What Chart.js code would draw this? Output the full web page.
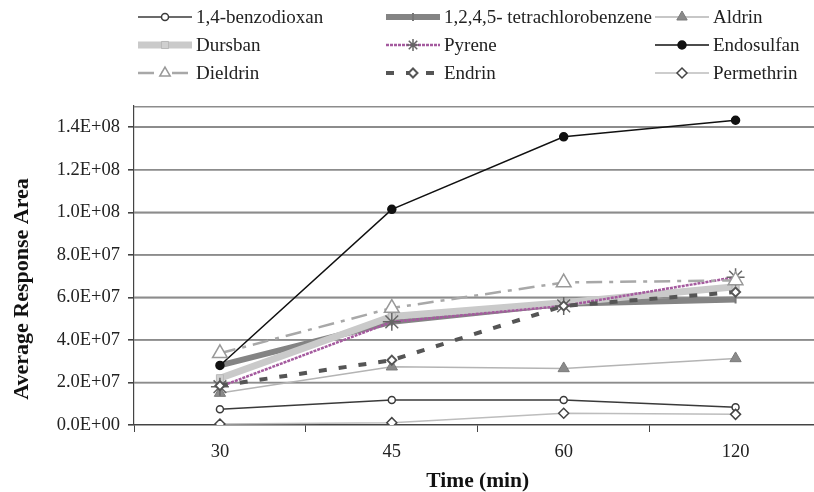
<!DOCTYPE html>
<html>
<head>
<meta charset="utf-8">
<script src="https://cdn.jsdelivr.net/npm/chart.js@4.4.0/dist/chart.umd.min.js"></script>
<style>
  html, body { margin: 0; padding: 0; background: #fff; overflow: hidden; }
  #wrap { width: 814px; height: 492px; overflow: hidden; }
  #box { width: 832px; height: 492px; }
</style>
</head>
<body>
<div id="wrap"><div id="box"><canvas id="chart"></canvas></div></div>
<script>
const times = ["30", "45", "60", "120"];
const yTicks = [0, 2e7, 4e7, 6e7, 8e7, 1e8, 1.2e8, 1.4e8];

const benzodioxan        = [7.4e6, 1.17e7, 1.17e7, 8.3e6];
const tetrachlorobenzene = [2.8e7, 4.85e7, 5.7e7, 5.9e7];
const aldrin             = [1.5e7, 2.74e7, 2.66e7, 3.13e7];
const dursban            = [2.2e7, 5.1e7, 5.75e7, 6.5e7];
const pyrene             = [1.8e7, 4.85e7, 5.6e7, 6.95e7];
const endosulfan         = [2.8e7, 1.014e8, 1.355e8, 1.433e8];
const dieldrin           = [3.37e7, 5.5e7, 6.7e7, 6.8e7];
const endrin             = [1.85e7, 3.05e7, 5.6e7, 6.25e7];
const permethrin         = [5e5, 1.1e6, 5.5e6, 5.0e6];

const serif = "'Liberation Serif', 'Times New Roman', serif";

function series(label, data, o) {
  return Object.assign({
    label, data,
    borderWidth: 1.5,
    borderDash: [],
    pointRadius: 4,
    pointBorderWidth: 1.5,
    pointRotation: 0,
    tension: 0,
    fill: false,
  }, o);
}

const datasets = [
  series("1,4-benzodioxan", benzodioxan, { borderColor: "#3a3a3a", pointStyle: "circle", pointRadius: 3.5, pointBackgroundColor: "#fff", pointBorderColor: "#3a3a3a" }),
  series("1,2,4,5- tetrachlorobenzene", tetrachlorobenzene, { borderColor: "#848484", borderWidth: 6, pointStyle: "line", pointRotation: 90, pointRadius: 4, pointBorderWidth: 2, pointBackgroundColor: "#777", pointBorderColor: "#777" }),
  series("Aldrin", aldrin, { borderColor: "#b4b4b4", pointStyle: "triangle", pointRadius: 6.5, pointBorderWidth: 1, pointBackgroundColor: "#8a8a8a", pointBorderColor: "#7a7a7a" }),
  series("Dursban", dursban, { borderColor: "#cacaca", borderWidth: 7, pointStyle: "rect", pointRadius: 5, pointBorderWidth: 1, pointBackgroundColor: "#cfcfcf", pointBorderColor: "#b8b8b8" }),
  series("Pyrene", pyrene, { borderColor: "#a45a9e", borderWidth: 2.5, borderDash: [3, 1], pointStyle: "star", pointRadius: 9, pointBorderWidth: 1.5, pointBackgroundColor: "#666", pointBorderColor: "#666" }),
  series("Endosulfan", endosulfan, { borderColor: "#111", pointStyle: "circle", pointRadius: 4, pointBackgroundColor: "#111", pointBorderColor: "#111" }),
  series("Dieldrin", dieldrin, { borderColor: "#a8a8a8", borderWidth: 2.5, borderDash: [16, 7, 4, 7], pointStyle: "triangle", pointRadius: 8.5, pointBorderWidth: 1.5, pointBackgroundColor: "#fff", pointBorderColor: "#999" }),
  series("Endrin", endrin, { borderColor: "#555", borderWidth: 4, borderDash: [8, 12], pointStyle: "rectRot", pointRadius: 4.5, pointBorderWidth: 2, pointBackgroundColor: "#fff", pointBorderColor: "#555" }),
  series("Permethrin", permethrin, { borderColor: "#bdbdbd", pointStyle: "rectRot", pointRadius: 5, pointBorderWidth: 1.5, pointBackgroundColor: "#fff", pointBorderColor: "#444" }),
];
// later series sit on top, as in the original
datasets.forEach((d, i) => { d.order = datasets.length - i; });

function sci(v) {
  const [m, e] = Number(v).toExponential(1).split("e");
  return m + "E" + e[0] + e.slice(1).padStart(2, "0");
}

// three-column legend above the plot
const legendCols = [138, 386, 655];
const legendRows = [17, 45, 73];
const legendPlugin = {
  id: "gridLegend",
  afterDraw(chart) {
    const ctx = chart.ctx;
    chart.data.datasets.forEach((d, i) => {
      const x0 = legendCols[i % 3], y = legendRows[Math.floor(i / 3)];
      const len = 54;
      ctx.save();
      ctx.strokeStyle = d.borderColor;
      ctx.lineWidth = d.borderWidth;
      ctx.setLineDash(d.borderDash || []);
      ctx.beginPath();
      ctx.moveTo(x0, y);
      ctx.lineTo(x0 + len, y);
      ctx.stroke();
      ctx.setLineDash([]);
      ctx.fillStyle = d.pointBackgroundColor;
      ctx.strokeStyle = d.pointBorderColor;
      ctx.lineWidth = d.pointBorderWidth;
      Chart.helpers.drawPoint(ctx, {
        pointStyle: d.pointStyle,
        radius: Math.min(d.pointRadius, 6),
        rotation: d.pointRotation,
        borderWidth: d.pointBorderWidth,
      }, x0 + len / 2, y);
      ctx.fillStyle = "#222";
      ctx.font = "19px " + serif;
      ctx.textBaseline = "middle";
      ctx.fillText(d.label, x0 + len + 4, y + 1);
      ctx.restore();
    });
  },
};

// horizontal gridlines, the top edge of the plot frame and the vertical axis title
const framePlugin = {
  id: "frame",
  beforeDatasetsDraw(chart) {
    const { ctx, chartArea: a, scales } = chart;
    ctx.save();
    ctx.strokeStyle = "#8c8c8c";
    ctx.lineWidth = 1.6;
    ctx.beginPath();
    yTicks.slice(1).forEach(v => {
      const y = scales.y.getPixelForValue(v);
      ctx.moveTo(a.left, y);
      ctx.lineTo(a.right, y);
    });
    ctx.moveTo(a.left, a.top + 0.8);
    ctx.lineTo(a.right, a.top + 0.8);
    ctx.stroke();
    ctx.restore();
  },
  afterDraw(chart) {
    const ctx = chart.ctx;
    ctx.save();
    ctx.translate(22, 289);
    ctx.rotate(-Math.PI / 2);
    ctx.font = "bold 22px " + serif;
    ctx.fillStyle = "#111";
    ctx.textAlign = "center";
    ctx.textBaseline = "middle";
    ctx.fillText("Average Response Area", 0, 0);
    ctx.restore();
  },
};

new Chart(document.getElementById("chart"), {
  type: "line",
  data: { labels: times, datasets },
  options: {
    responsive: true,
    maintainAspectRatio: false,
    devicePixelRatio: 1,
    animation: false,
    layout: { padding: { top: 106, left: 6, right: 7, bottom: 0 } },
    plugins: { legend: { display: false }, tooltip: { enabled: false } },
    scales: {
      x: {
        offset: true,
        grid: { offset: true, drawOnChartArea: false, tickLength: 7, tickColor: "#444" },
        border: { color: "#444", width: 1.2 },
        ticks: { font: { family: serif, size: 18.5 }, color: "#222", padding: 9 },
        title: { display: true, text: "Time (min)", font: { family: serif, size: 21.5, weight: "bold" }, color: "#111", padding: { top: 0, bottom: -2 } },
        afterFit(s) { s.height = 67; },
      },
      y: {
        min: 0,
        max: 1.5e8,
        afterBuildTicks(s) { s.ticks = yTicks.map(v => ({ value: v })); },
        afterFit(s) { s.width = 128; },
        grid: { color: "#8c8c8c", lineWidth: 1.6, tickLength: 6, tickColor: "#444" },
        border: { color: "#444", width: 1.2 },
        ticks: { font: { family: serif, size: 18.5 }, color: "#222", padding: 8, callback: v => sci(v) },
      },
    },
  },
  plugins: [legendPlugin, framePlugin],
});
</script>
</body>
</html>
